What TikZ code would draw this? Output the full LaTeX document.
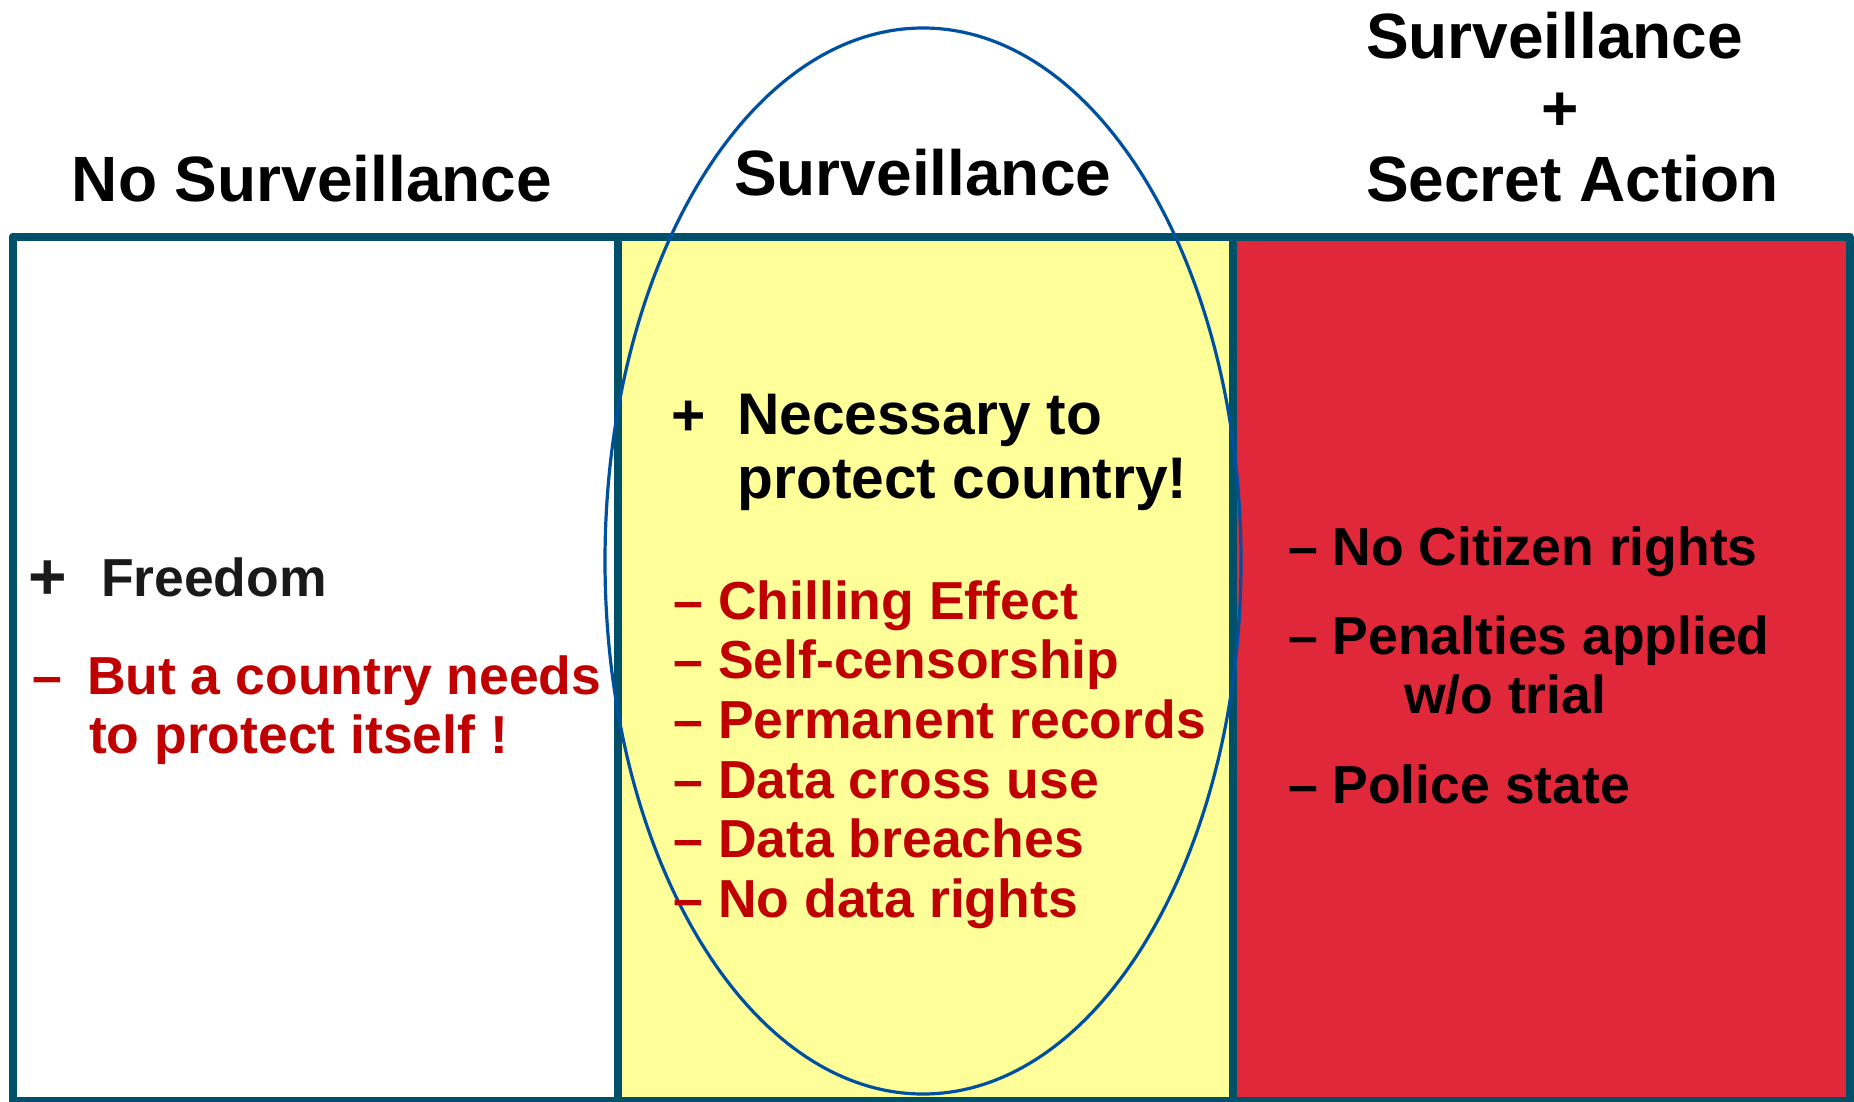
\documentclass[tikz,border=0pt]{standalone}
\usepackage{fontspec}
\setmainfont{Liberation Sans}
\definecolor{framecol}{RGB}{0,80,106}
\definecolor{ovalblue}{RGB}{0,80,160}
\definecolor{survyellow}{RGB}{255,255,153}
\definecolor{survred}{RGB}{224,40,58}
\definecolor{minusred}{RGB}{192,0,0}
\definecolor{darktext}{RGB}{26,26,26}
\begin{document}
\begin{tikzpicture}[x=1pt,y=-1pt,
  frame/.style={draw=framecol,line width=8pt,line join=round},
  ovalline/.style={draw=ovalblue,line width=3.2pt},
  titletxt/.style={inner sep=0pt,outer sep=0pt,anchor=base,font=\bfseries\fontsize{64}{64}\selectfont,text=black},
  titleleft/.style={titletxt,anchor=base west},
  bodytxt/.style={inner sep=0pt,outer sep=0pt,anchor=base west,font=\bfseries\fontsize{53.5}{53.5}\selectfont},
  bigtxt/.style={bodytxt,font=\bfseries\fontsize{58.7}{58.7}\selectfont,text=black},
  bigplus/.style={bodytxt,font=\bfseries\fontsize{66}{66}\selectfont},
  contxt/.style={bodytxt,text=minusred},
  blacktxt/.style={bodytxt,text=black}]
\useasboundingbox (0,0) rectangle (1854,1102);

% column fills
\fill[white] (12.5,236.5) rectangle (618,1101);
\fill[survyellow] (618,236.5) rectangle (1233,1101);
\fill[survred] (1233,236.5) rectangle (1849.5,1101);

% frame
\draw[frame] (12.5,1101) -- (12.5,236.5) -- (1849.5,236.5) -- (1849.5,1101) -- cycle;
\draw[frame] (618,236.5) -- (618,1101);
\draw[frame] (1233,236.5) -- (1233,1101);

% oval
\draw[ovalline] (923,561) ellipse [x radius=318, y radius=533];

% titles
\node[titletxt] (t1) at (312,201.7) {No Surveillance};
\node[titletxt] (t2) at (922.7,196) {Surveillance};
\node[titleleft] (t3a) at (1366,58.3) {Surveillance};
\node[titletxt] (t3b) at (1560,130.5) {+};
\node[titleleft] (t3c) at (1366,201.7) {Secret Action};

% left column
\node[bigplus,text=darktext] (lp) at (28,599.5) {+};
\node[bodytxt,text=darktext] (lfree) at (101,596) {Freedom};
\node[contxt] (lm) at (32,694) {–};
\node[contxt] (lbut1) at (87,694) {But a country needs};
\node[contxt] (lbut2) at (89,753) {to protect itself !};

% middle column
\node[bigtxt] (mp) at (671,435.5) {+};
\node[bigtxt] (mnec1) at (737,434) {Necessary to};
\node[bigtxt] (mnec2) at (737.5,498) {protect country!};
\node[contxt] (m1) at (673.6,619) {– Chilling Effect};
\node[contxt] (m2) at (673.6,678.5) {– Self-censorship};
\node[contxt] (m3) at (673.6,738) {– Permanent records};
\node[contxt] (m4) at (673.6,798) {– Data cross use};
\node[contxt] (m5) at (673.6,857.6) {– Data breaches};
\node[contxt] (m6) at (673.6,917) {– No data rights};

% right column
\node[blacktxt] (r1) at (1288,565) {– No Citizen rights};
\node[blacktxt] (r2) at (1288,654) {– Penalties applied};
\node[blacktxt] (r2b) at (1404,713) {w/o trial};
\node[blacktxt] (r3) at (1288,803) {– Police state};
\end{tikzpicture}
\end{document}
